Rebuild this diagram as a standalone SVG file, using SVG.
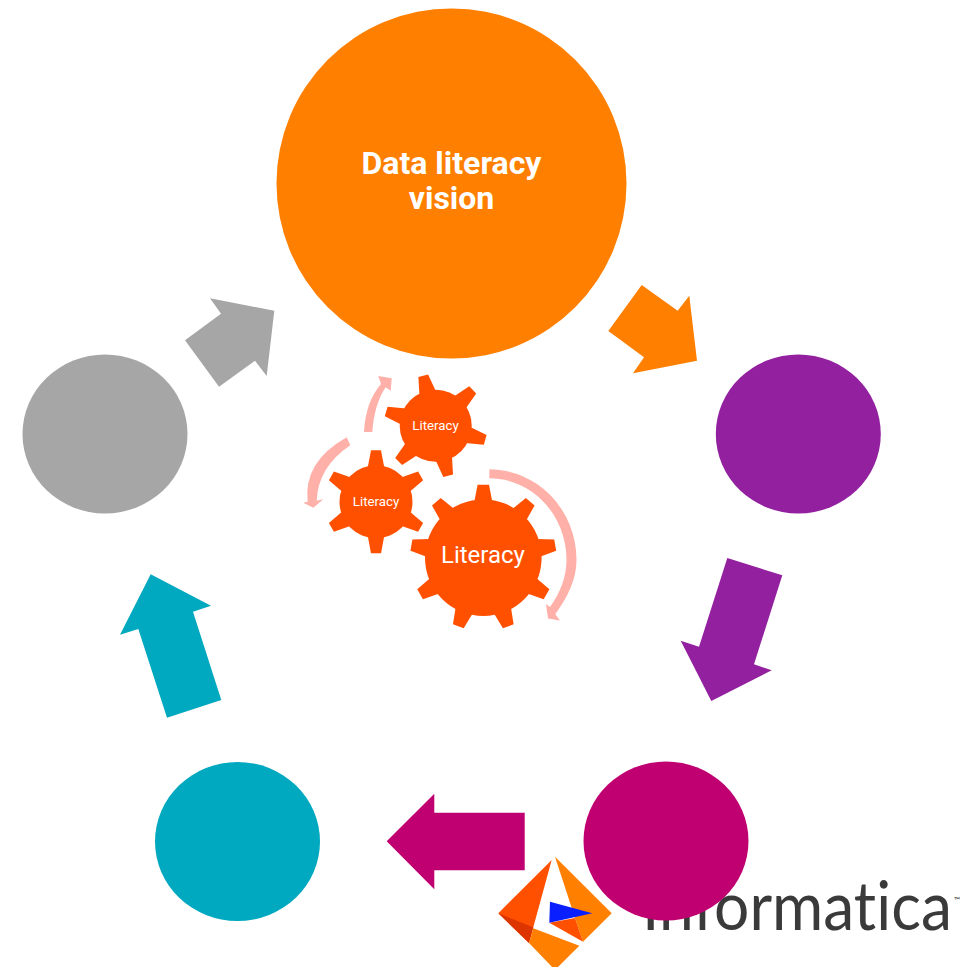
<svg xmlns="http://www.w3.org/2000/svg" width="976" height="967" viewBox="0 0 976 967">
<style>
.gear{fill:#ff5000}
.flow{fill:#ffb0a8}
text{font-family:Roboto,"Liberation Sans",sans-serif;fill:#fff;text-anchor:middle}
.head{font-size:32px;font-weight:700}
.mid{font-size:13.3px}
.big{font-size:24px}
.word{font-family:Lato,"Liberation Sans",sans-serif;font-weight:400;fill:#3a3a3a;text-anchor:start;font-variant-ligatures:none}
</style>
<defs>
<polygon id="tL" points="-9,-56 -5.7,-73 5.7,-73 9,-56"/>
<polygon id="tS" points="-8.5,-33 -5,-51.5 5,-51.5 8.5,-33"/>
</defs>
<rect width="976" height="967" fill="#fff"/>
<g id="connectors">
<polygon fill="#ff7f00" points="641.7,285 677.7,310.7 689.3,295.7 697,360.7 633,373.3 644,357.3 608.3,331"/>
<polygon fill="#92209f" points="727.3,558 782.3,575.3 754,664.3 771.7,670.3 711.3,701 680.7,640.7 699,646.7"/>
<polygon fill="#c00070" points="386.7,841.3 434.3,793.7 434.3,812.7 524.7,812.7 524.7,870.3 434.3,870.3 434.3,889.3"/>
<polygon fill="#00a9bf" points="150.7,574.3 211,605.7 193,611.7 221.3,700 167,717.7 138.3,629 120,634.7"/>
<polygon fill="#a6a6a6" points="210,298.3 274.3,310.7 266.7,376 255,360.7 219,386.7 185,340.3 221,313.7"/>
<path class="flow" d="M364,432Q365.5,402 381,384L378.3,376L391.7,378.3L390.7,390.7L385.7,387.3Q374.4,403.7 372.3,432Z"/>
<path class="flow" d="M346.7,437.3Q303,462 307.7,501.7L303.3,502.7L313.3,507.7L323.3,499.3L316.7,500.7Q318,467 350.3,445.3Z"/>
<path class="flow" d="M489.3,469.3A87.2 90.7 0 0 1 576.5,560C576.5,580 567,598 555.3,614.3L560,620.5L548,618.5L546,604L550,607C560,593 566.5,577 566.5,560A77.2 81.7 0 0 0 489.3,478.3Z"/>
</g>
<g id="gear-large" class="gear">
<circle cx="483.3" cy="557.7" r="58.3"/>
<use href="#tL" transform="translate(483.3 557.7)"/>
<use href="#tL" transform="translate(483.3 557.7) rotate(40)"/>
<use href="#tL" transform="translate(483.3 557.7) rotate(80)"/>
<use href="#tL" transform="translate(483.3 557.7) rotate(120)"/>
<use href="#tL" transform="translate(483.3 557.7) rotate(160)"/>
<use href="#tL" transform="translate(483.3 557.7) rotate(200)"/>
<use href="#tL" transform="translate(483.3 557.7) rotate(240)"/>
<use href="#tL" transform="translate(483.3 557.7) rotate(280)"/>
<use href="#tL" transform="translate(483.3 557.7) rotate(320)"/>
<text class="big" x="483" y="563">Literacy</text>
</g>
<g id="gear-left" class="gear">
<circle cx="376" cy="501.7" r="36.5"/>
<use href="#tS" transform="translate(376 501.7)"/>
<use href="#tS" transform="translate(376 501.7) rotate(60)"/>
<use href="#tS" transform="translate(376 501.7) rotate(120)"/>
<use href="#tS" transform="translate(376 501.7) rotate(180)"/>
<use href="#tS" transform="translate(376 501.7) rotate(240)"/>
<use href="#tS" transform="translate(376 501.7) rotate(300)"/>
<text class="mid" x="376" y="506">Literacy</text>
</g>
<g id="gear-top" class="gear">
<circle cx="435.7" cy="425.7" r="36"/>
<use href="#tS" transform="translate(435.7 425.7) rotate(-14)"/>
<use href="#tS" transform="translate(435.7 425.7) rotate(46)"/>
<use href="#tS" transform="translate(435.7 425.7) rotate(106)"/>
<use href="#tS" transform="translate(435.7 425.7) rotate(166)"/>
<use href="#tS" transform="translate(435.7 425.7) rotate(226)"/>
<use href="#tS" transform="translate(435.7 425.7) rotate(286)"/>
<text class="mid" x="435.5" y="430">Literacy</text>
</g>
<g id="logo">
<text class="word" transform="translate(642 929.5) scale(.93 1)" font-size="67">Informatica</text>
<text class="word" x="954" y="903" font-size="8">™</text>
<polygon fill="#ff5000" points="551.7,860 498.3,913.3 529,943 533.3,927.3"/>
<polygon fill="#dd3500" points="498.3,913.3 533.3,927.3 529,943"/>
<polygon fill="#ff7f00" points="533.3,928.3 579.3,945.7 555,970 529,943"/>
<polygon fill="#ff7f00" points="555,856.7 611.7,913.3 583,941.7 575,918"/>
<polygon fill="#ff5000" points="549.3,922.7 575,918 583,941.7"/>
<polygon fill="#0a1fff" points="550,901.7 592.3,913.3 549.3,922.7"/>
</g>
<g id="node-vision">
<circle cx="451.5" cy="183.5" r="175" fill="#ff7f00"/>
<text class="head" x="451.5" y="174">Data literacy</text>
<text class="head" x="451.5" y="209">vision</text>
</g>
<g id="node-purple"><ellipse cx="798.3" cy="434" rx="82.5" ry="79.5" fill="#92209f"/></g>
<g id="node-magenta"><ellipse cx="666" cy="841" rx="82.5" ry="79.5" fill="#c00070"/></g>
<g id="node-teal"><ellipse cx="237.5" cy="841.5" rx="82.5" ry="79.5" fill="#00a9bf"/></g>
<g id="node-gray"><ellipse cx="105" cy="434" rx="82.5" ry="79.5" fill="#a6a6a6"/></g>
</svg>
